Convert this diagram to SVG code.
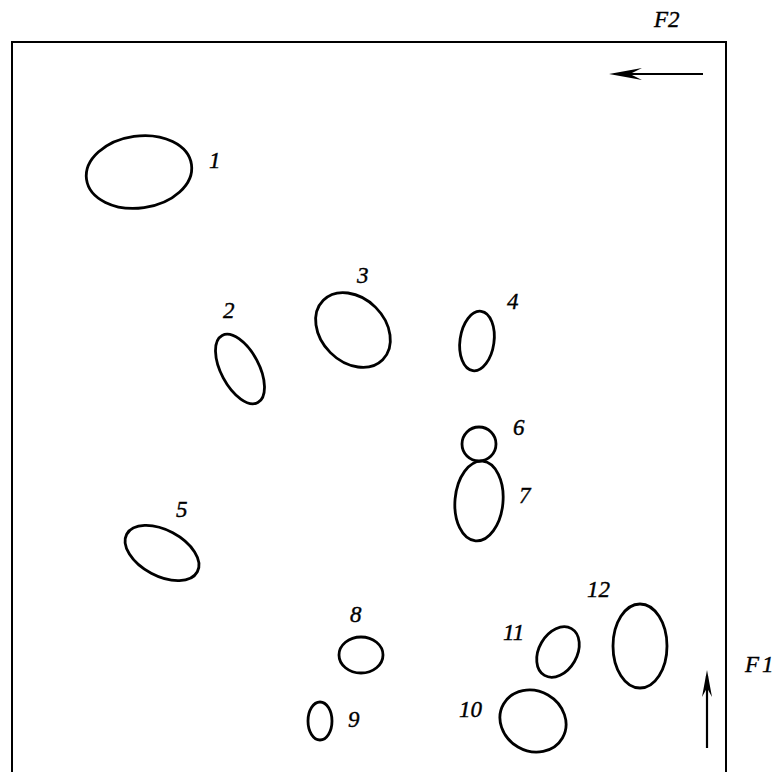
<svg xmlns="http://www.w3.org/2000/svg" width="777" height="772" viewBox="0 0 777 772">
<style>
.o{fill:none;stroke:#000;stroke-width:2.8}
.l{font-family:"Liberation Serif","Times New Roman",serif;font-style:italic;font-size:23px;fill:#000;stroke:#000;stroke-width:0.4}
.f{stroke:#000;stroke-width:2;fill:none}
</style>
<rect width="777" height="772" fill="#fff"/>
<g id="frame">
<path class="f" d="M11,42 L726,42 L726,772 M12,42 L12,772"/>
</g>
<g id="connectors">
<path d="M703,74 L614,74" stroke="#000" stroke-width="2.2" fill="none"/>
<path d="M609,74 L642,68 L630,74 L642,80 Z" fill="#000"/>
<path d="M707,748 L707,676" stroke="#000" stroke-width="2.2" fill="none"/>
<path d="M707,670 L712,697 L707,688 L702,697 Z" fill="#000"/>
</g>
<g id="n1"><ellipse class="o" cx="139" cy="172" rx="53" ry="36" transform="rotate(-8 139 172)"/><text class="l" x="209" y="168">1</text></g>
<g id="n2"><ellipse class="o" cx="240" cy="369" rx="38" ry="19" transform="rotate(62 240 369)"/><text class="l" x="223" y="318">2</text></g>
<g id="n3"><ellipse class="o" cx="353" cy="330" rx="42" ry="32" transform="rotate(45 353 330)"/><text class="l" x="357" y="283">3</text></g>
<g id="n4"><ellipse class="o" cx="477" cy="341" rx="17" ry="30" transform="rotate(8 477 341)"/><text class="l" x="507" y="309">4</text></g>
<g id="n5"><ellipse class="o" cx="162" cy="553" rx="40" ry="23" transform="rotate(28 162 553)"/><text class="l" x="176" y="517">5</text></g>
<g id="n6"><ellipse class="o" cx="479" cy="444" rx="17" ry="17"/><text class="l" x="513" y="435">6</text></g>
<g id="n7"><ellipse class="o" cx="479" cy="501" rx="24" ry="40" transform="rotate(5 479 501)"/><text class="l" x="519" y="503">7</text></g>
<g id="n8"><ellipse class="o" cx="361" cy="655" rx="22" ry="18"/><text class="l" x="350" y="622">8</text></g>
<g id="n9"><ellipse class="o" cx="320" cy="721" rx="12" ry="19"/><text class="l" x="348" y="727">9</text></g>
<g id="n10"><ellipse class="o" cx="533" cy="721" rx="34" ry="30" transform="rotate(30 533 721)"/><text class="l" x="459" y="717">10</text></g>
<g id="n11"><ellipse class="o" cx="558" cy="652" rx="19" ry="27" transform="rotate(30 558 652)"/><text class="l" x="503" y="640">11</text></g>
<g id="n12"><ellipse class="o" cx="640" cy="646" rx="27" ry="42"/><text class="l" x="587" y="597">12</text></g>
<g id="F2"><text class="l" x="654" y="27">F2</text></g>
<g id="F1"><text class="l" x="745" y="672">F<tspan dx="3">1</tspan></text></g>
</svg>
